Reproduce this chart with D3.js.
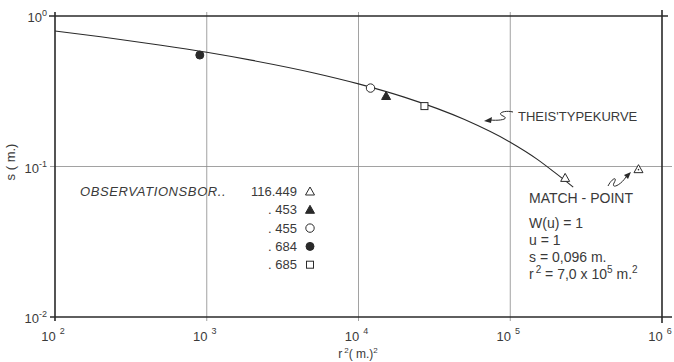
<!DOCTYPE html>
<html>
<head>
<meta charset="utf-8">
<script src="https://cdn.jsdelivr.net/npm/d3@7"></script>
<style>
  html, body { margin: 0; padding: 0; background: #fff; }
  svg { display: block; font-family: "Liberation Sans", "DejaVu Sans", sans-serif; }
</style>
</head>
<body>
<svg id="chart" width="674" height="362"></svg>
<script>
// Theis type curve fitted to the pumping test (s against r²)
const curveR2 = [100, 200, 500, 1000, 2000, 5000, 1e4, 2e4, 5e4, 1e5, 1.5e5, 2e5, 2.6e5];
const curveS  = [0.795, 0.728, 0.640, 0.574, 0.507, 0.420, 0.354, 0.289, 0.205, 0.145, 0.112, 0.090, 0.073];

// Observation wells
const wellNames   = ["116.449", ". 453", ". 455", ". 684", ". 685"];
const wellSymbols = ["triangle", "triangleFilled", "circle", "circleFilled", "square"];
const wellR2      = [2.3e5, 1.52e4, 1.2e4, 900, 2.72e4];
const wellS       = [0.084, 0.294, 0.332, 0.55, 0.252];

// Match point
const matchR2 = 7.0e5;
const matchS  = 0.096;
const matchLines = ["W(u)  =  1", "u  =  1", "s  =  0,096 m."];

// Axis ticks
const xTicks = [1e2, 1e3, 1e4, 1e5, 1e6];
const xExp   = ["2", "3", "4", "5", "6"];
const yTicks = [1, 0.1, 0.01];
const yExp   = ["0", "-1", "-2"];

const svg = d3.select("#chart");
const ink = "#2a2a2a";
const textInk = "#3a3a3a";

const x = d3.scaleLog().domain([1e2, 1e6]).range([55, 662]);
const y = d3.scaleLog().domain([1e-2, 1]).range([317, 16]);

// grid lines
const grid = svg.append("g").attr("stroke", "#8a8a8a").attr("stroke-width", 0.8);
grid.selectAll("line.vx").data(xTicks.slice(1, 4)).join("line")
  .attr("x1", d => x(d)).attr("x2", d => x(d))
  .attr("y1", y(1) - 4).attr("y2", y(0.01) + 4);
grid.append("line")
  .attr("x1", x(1e2) - 5).attr("x2", x(1e6) + 10)
  .attr("y1", y(0.1)).attr("y2", y(0.1));

// frame
const frame = svg.append("g").attr("stroke", ink).attr("stroke-width", 1.6).attr("fill", "none");
frame.append("line").attr("x1", x(1e2) - 6).attr("x2", x(1e6) + 6).attr("y1", y(1)).attr("y2", y(1));
frame.append("line").attr("x1", x(1e2) - 5).attr("x2", x(1e6) + 10).attr("y1", y(0.01)).attr("y2", y(0.01));
frame.append("line").attr("x1", x(1e2)).attr("x2", x(1e2)).attr("y1", y(1) - 4).attr("y2", y(0.01) + 4);
frame.append("line").attr("x1", x(1e6)).attr("x2", x(1e6)).attr("y1", y(1) - 6).attr("y2", y(0.01) + 6);

// y tick labels
const yl = svg.append("g").attr("fill", textInk).attr("font-size", 13);
yTicks.forEach((t, i) => {
  const tx = yl.append("text").attr("x", 47).attr("y", y(t) + 6).attr("text-anchor", "end");
  tx.append("tspan").text("10");
  tx.append("tspan").attr("font-size", 9).attr("dy", -6).text(yExp[i]);
});

// x tick labels
const xl = svg.append("g").attr("fill", textInk).attr("font-size", 13);
xTicks.forEach((t, i) => {
  const tx = xl.append("text").attr("x", x(t) - 2).attr("y", 341).attr("text-anchor", "middle");
  tx.append("tspan").text("10");
  tx.append("tspan").attr("font-size", 9).attr("dx", 4).attr("dy", -7).text(xExp[i]);
});

// axis titles
const xt = svg.append("text").attr("x", 358).attr("y", 358).attr("text-anchor", "middle")
  .attr("fill", textInk).attr("font-size", 12);
xt.append("tspan").text("r");
xt.append("tspan").attr("font-size", 8).attr("dy", -5).attr("dx", 2).text("2");
xt.append("tspan").attr("dy", 5).text("( m.)");
xt.append("tspan").attr("font-size", 8).attr("dy", -5).text("2");

svg.append("text").attr("transform", "translate(15,162) rotate(-90)")
  .attr("text-anchor", "middle").attr("fill", textInk).attr("font-size", 13).text("s  ( m.)");

// type curve
const pts = curveR2.map((r, i) => [r, curveS[i]]);
svg.append("path").datum(pts)
  .attr("fill", "none").attr("stroke", ink).attr("stroke-width", 1.1)
  .attr("d", d3.line().x(d => x(d[0])).y(d => y(d[1])).curve(d3.curveMonotoneX));

// marker drawing
function drawSymbol(g, kind, cx, cy) {
  if (kind === "triangle" || kind === "triangleFilled") {
    g.append("path")
      .attr("d", `M${cx},${cy - 4.5}L${cx + 4.5},${cy + 3.5}L${cx - 4.5},${cy + 3.5}Z`)
      .attr("fill", kind === "triangleFilled" ? ink : "#fff")
      .attr("stroke", ink).attr("stroke-width", 1);
  } else if (kind === "circle" || kind === "circleFilled") {
    g.append("circle").attr("cx", cx).attr("cy", cy).attr("r", kind === "circleFilled" ? 4 : 4.2)
      .attr("fill", kind === "circleFilled" ? ink : "#fff")
      .attr("stroke", ink).attr("stroke-width", 1);
  } else {
    g.append("rect").attr("x", cx - 3.5).attr("y", cy - 3.5).attr("width", 7).attr("height", 7)
      .attr("fill", "#fff").attr("stroke", ink).attr("stroke-width", 1);
  }
}

const marks = svg.append("g");
wellR2.forEach((r, i) => drawSymbol(marks, wellSymbols[i], x(r), y(wellS[i])));

// match point marker
drawSymbol(marks, "triangle", x(matchR2), y(matchS));
marks.append("circle").attr("cx", x(matchR2)).attr("cy", y(matchS) + 0.5).attr("r", 0.8).attr("fill", ink);

// legend
const lg = svg.append("g").attr("fill", textInk).attr("font-size", 13);
lg.append("text").attr("x", 80).attr("y", 196).attr("font-style", "italic")
  .attr("letter-spacing", 0.6).text("OBSERVATIONSBOR..");
wellNames.forEach((n, i) => {
  const yy = 196 + i * 18.3;
  lg.append("text").attr("x", 297).attr("y", yy).attr("text-anchor", "end").text(n);
  drawSymbol(svg, wellSymbols[i], 310, yy - 4.5);
});

// curve label with wavy arrow
svg.append("text").attr("x", 518).attr("y", 121).attr("fill", textInk).attr("font-size", 13)
  .text("THEIS'TYPEKURVE");
svg.append("path")
  .attr("d", "M513,112 C505,110 496,113 503,116 C510,119 500,121 490,120")
  .attr("fill", "none").attr("stroke", ink).attr("stroke-width", 1);
svg.append("path").attr("d", "M484,121 L492,117 L491,123 Z").attr("fill", ink);

// match point annotation
const mp = svg.append("g").attr("fill", textInk).attr("font-size", 14);
mp.append("text").attr("x", 529).attr("y", 203).text("MATCH - POINT");
matchLines.forEach((t, i) => {
  mp.append("text").attr("x", 529).attr("y", 228 + i * 17).text(t);
});
const r2t = mp.append("text").attr("x", 529).attr("y", 279);
r2t.append("tspan").text("r");
r2t.append("tspan").attr("font-size", 10).attr("dy", -6).attr("dx", 2).text("2");
r2t.append("tspan").attr("dy", 6).text("  =  7,0 x 10");
r2t.append("tspan").attr("font-size", 10).attr("dy", -6).text("5");
r2t.append("tspan").attr("dy", 6).text(" m.");
r2t.append("tspan").attr("font-size", 10).attr("dy", -6).text("2");

svg.append("path")
  .attr("d", "M608,186 C612,178 618,176 614,183 C611,189 620,186 626,177")
  .attr("fill", "none").attr("stroke", ink).attr("stroke-width", 1);
svg.append("path").attr("d", "M631,172 L624,175 L628,179 Z").attr("fill", ink);
</script>
</body>
</html>
